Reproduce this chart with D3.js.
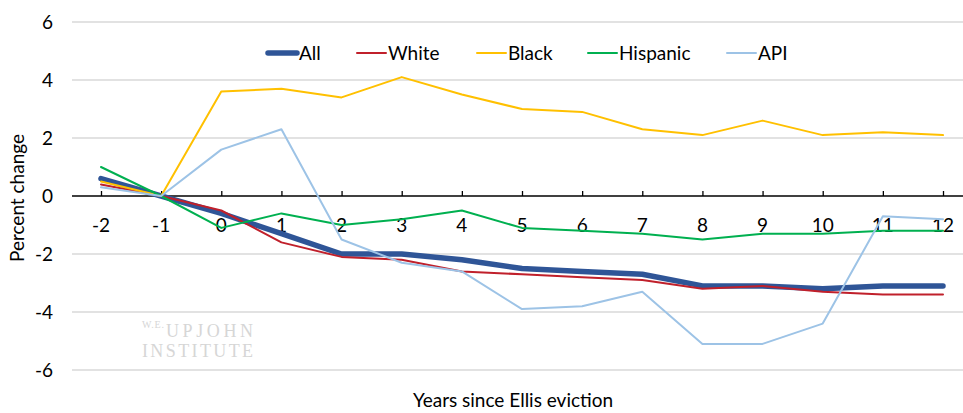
<!DOCTYPE html>
<html>
<head>
<meta charset="utf-8">
<script src="https://cdn.jsdelivr.net/npm/d3@7"></script>
<style>
  body { margin: 0; background: #fff; }
  svg { display: block; font-family: Lato, "Open Sans", sans-serif; }
</style>
</head>
<body>
<svg id="chart" width="963" height="413"></svg>
<script>
'use strict';

// years relative to eviction
const years = [-2, -1, 0, 1, 2, 3, 4, 5, 6, 7, 8, 9, 10, 11, 12];
const yTicks = [-6, -4, -2, 0, 2, 4, 6];

const seriesNames = ['All', 'White', 'Black', 'Hispanic', 'API'];
const allVals      = [0.6, 0, -0.6, -1.3, -2.0, -2.0, -2.2, -2.5, -2.6, -2.7, -3.1, -3.1, -3.2, -3.1, -3.1];
const whiteVals    = [0.4, 0, -0.5, -1.6, -2.1, -2.2, -2.6, -2.7, -2.8, -2.9, -3.2, -3.1, -3.3, -3.4, -3.4];
const blackVals    = [0.5, 0, 3.6, 3.7, 3.4, 4.1, 3.5, 3.0, 2.9, 2.3, 2.1, 2.6, 2.1, 2.2, 2.1];
const hispanicVals = [1.0, 0, -1.1, -0.6, -1.0, -0.8, -0.5, -1.1, -1.2, -1.3, -1.5, -1.3, -1.3, -1.2, -1.2];
const apiVals      = [0.3, 0, 1.6, 2.3, -1.5, -2.3, -2.6, -3.9, -3.8, -3.3, -5.1, -5.1, -4.4, -0.7, -0.8];

const colors = ['#2F5597', '#C0202B', '#FFC000', '#00B050', '#9DC3E6'];
const widths = [5.5, 2, 2, 2, 2];

const series = seriesNames.map((name, k) => ({
	name: name,
	values: [allVals, whiteVals, blackVals, hispanicVals, apiVals][k],
	color: colors[k],
	width: widths[k]
}));

const svg = d3.select('#chart');
const left = 72, right = 963;
const fs = 19;

const x = d3.scalePoint().domain(years).range([101, 943]);
const y = d3.scaleLinear().domain([-6, 6]).range([370, 22]);

// gridlines
svg.append('g')
	.selectAll('line')
	.data(yTicks.filter(d => d !== 0))
	.join('line')
	.attr('x1', left).attr('x2', right)
	.attr('y1', d => y(d)).attr('y2', d => y(d))
	.attr('stroke', '#d9d9d9')
	.attr('stroke-width', 1.3)
;

// y labels
svg.append('g')
	.selectAll('text')
	.data(yTicks)
	.join('text')
	.attr('x', 53)
	.attr('y', d => y(d))
	.attr('dy', '0.35em')
	.attr('text-anchor', 'end')
	.attr('font-size', fs)
	.attr('fill', '#000')
	.text(d => d)
;

// watermark
const $wm = svg.append('g')
	.attr('font-family', '"Liberation Serif", "DejaVu Serif", serif')
	.attr('fill', '#d6d6d6');
$wm.append('text').attr('x', 142).attr('y', 328).attr('font-size', 10)
	.attr('textLength', 22).text('W.E.');
$wm.append('text').attr('x', 166).attr('y', 337).attr('font-size', 18)
	.attr('textLength', 87).text('UPJOHN');
$wm.append('text').attr('x', 142).attr('y', 357).attr('font-size', 18)
	.attr('textLength', 111).text('INSTITUTE');

// x axis at zero
const xAxis = d3.axisTop(x).tickSize(5).tickFormat('');
const $xa = svg.append('g')
	.attr('transform', 'translate(0,' + y(0) + ')')
	.call(xAxis);
$xa.select('.domain').attr('d', 'M' + left + ',0H' + right).attr('stroke', '#000').attr('stroke-width', 1.5);
$xa.selectAll('.tick line').attr('stroke', '#000').attr('stroke-width', 1.3);

svg.append('g')
	.selectAll('text')
	.data(years)
	.join('text')
	.attr('x', d => x(d))
	.attr('y', y(0) + 36)
	.attr('text-anchor', 'middle')
	.attr('font-size', fs)
	.attr('fill', '#000')
	.text(d => d)
;

// lines
const line = d3.line()
	.x((d, i) => x(years[i]))
	.y(d => y(d));

svg.append('g')
	.selectAll('path')
	.data(series)
	.join('path')
	.attr('d', d => line(d.values))
	.attr('fill', 'none')
	.attr('stroke', d => d.color)
	.attr('stroke-width', d => d.width)
	.attr('stroke-linecap', 'round')
	.attr('stroke-linejoin', 'round')
;

// legend
const legendX = [268, 357, 477, 588, 727];
const $leg = svg.append('g')
	.selectAll('g')
	.data(series)
	.join('g')
	.attr('transform', (d, i) => 'translate(' + legendX[i] + ',53)');
$leg.append('line')
	.attr('x1', 0).attr('x2', 29)
	.attr('stroke', d => d.color)
	.attr('stroke-width', d => d.width)
	.attr('stroke-linecap', 'round');
$leg.append('text')
	.attr('x', 31)
	.attr('dy', '0.35em')
	.attr('font-size', fs)
	.attr('fill', '#000')
	.text(d => d.name);

// axis titles
svg.append('text')
	.attr('transform', 'translate(24,198) rotate(-90)')
	.attr('text-anchor', 'middle')
	.attr('font-size', fs)
	.text('Percent change');

svg.append('text')
	.attr('x', 513)
	.attr('y', 407)
	.attr('text-anchor', 'middle')
	.attr('font-size', fs)
	.text('Years since Ellis eviction');
</script>
</body>
</html>
